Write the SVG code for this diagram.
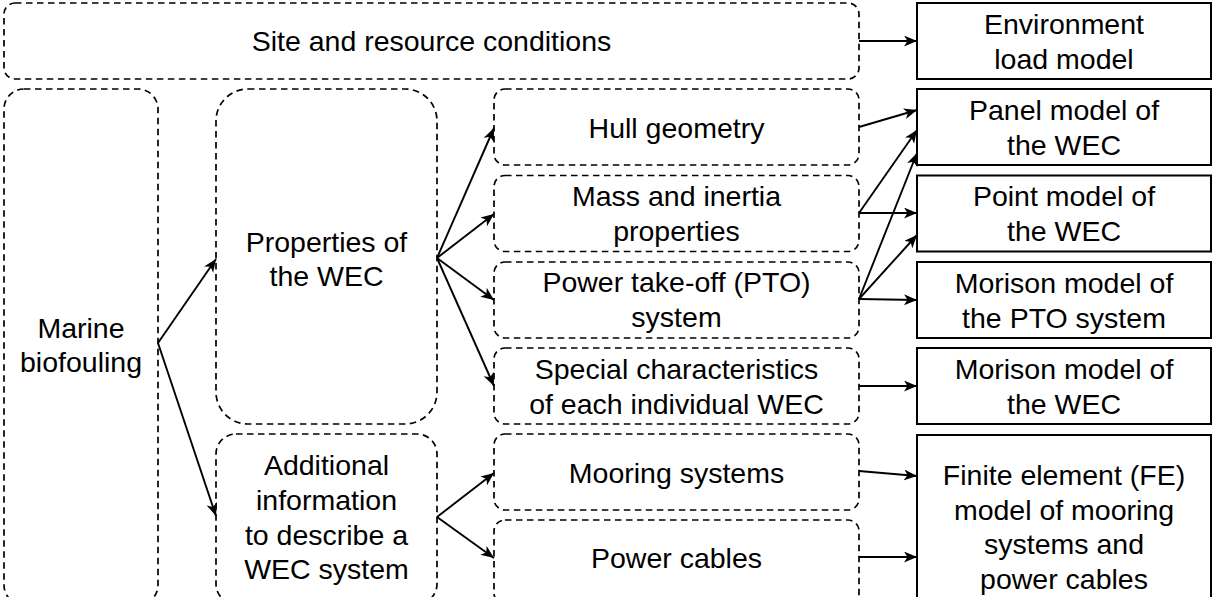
<svg xmlns="http://www.w3.org/2000/svg" width="1214" height="597" viewBox="0 0 1214 597">
  <defs>
    <style>
      .dash { fill: #ffffff; stroke: #000000; stroke-width: 1.7; stroke-dasharray: 6.5 4.5; }
      .solid { fill: #ffffff; stroke: #000000; stroke-width: 2; }
      .lbl { font-family: "Liberation Sans", Arial, Helvetica, sans-serif; font-size: 28.5px; fill: #000000; text-anchor: middle; }
      .edge { stroke: #000000; stroke-width: 1.9; fill: none; marker-end: url(#arrow); }
    </style>
    <marker id="arrow" markerUnits="userSpaceOnUse" markerWidth="15" markerHeight="12" refX="13" refY="5.5" orient="auto">
      <path d="M0,0 L13,5.5 L0,11 L3.5,5.5 z" fill="#000000"/>
    </marker>
  </defs>
  <rect width="1214" height="597" fill="#ffffff"/>

  <!-- inputs -->
  <g id="site">
    <rect class="dash" x="4" y="3" width="855" height="76" rx="11"/>
    <text class="lbl" x="431.5" y="51">Site and resource conditions</text>
  </g>
  <g id="biofouling">
    <rect class="dash" x="4" y="89" width="154" height="516" rx="20"/>
    <text class="lbl" x="81" y="337.5">Marine</text>
    <text class="lbl" x="81" y="371.5">biofouling</text>
  </g>
  <g id="properties">
    <rect class="dash" x="216" y="89" width="221" height="335" rx="32"/>
    <text class="lbl" x="326.5" y="252">Properties of</text>
    <text class="lbl" x="326.5" y="286">the WEC</text>
  </g>
  <g id="additional">
    <rect class="dash" x="216" y="434" width="221" height="170" rx="20"/>
    <text class="lbl" x="326.5" y="475">Additional</text>
    <text class="lbl" x="326.5" y="510">information</text>
    <text class="lbl" x="326.5" y="544.5">to describe a</text>
    <text class="lbl" x="326.5" y="579">WEC system</text>
  </g>

  <!-- WEC descriptors -->
  <g id="hull">
    <rect class="dash" x="494" y="89" width="365" height="76" rx="11"/>
    <text class="lbl" x="676.5" y="137.5">Hull geometry</text>
  </g>
  <g id="mass">
    <rect class="dash" x="494" y="175.5" width="365" height="76" rx="11"/>
    <text class="lbl" x="676.5" y="205.5">Mass and inertia</text>
    <text class="lbl" x="676.5" y="240.5">properties</text>
  </g>
  <g id="pto">
    <rect class="dash" x="494" y="262" width="365" height="76" rx="11"/>
    <text class="lbl" x="676.5" y="292">Power take-off (PTO)</text>
    <text class="lbl" x="676.5" y="327">system</text>
  </g>
  <g id="special">
    <rect class="dash" x="494" y="348" width="365" height="76" rx="11"/>
    <text class="lbl" x="676.5" y="379">Special characteristics</text>
    <text class="lbl" x="676.5" y="413.5">of each individual WEC</text>
  </g>
  <g id="mooring">
    <rect class="dash" x="494" y="434" width="365" height="76" rx="11"/>
    <text class="lbl" x="676.5" y="482.5">Mooring systems</text>
  </g>
  <g id="cables">
    <rect class="dash" x="494" y="520" width="365" height="84" rx="11"/>
    <text class="lbl" x="676.5" y="568">Power cables</text>
  </g>

  <!-- numerical models -->
  <g id="env-model">
    <rect class="solid" x="917" y="3" width="294" height="76"/>
    <text class="lbl" x="1064" y="33.5">Environment</text>
    <text class="lbl" x="1064" y="68.5">load model</text>
  </g>
  <g id="panel-model">
    <rect class="solid" x="917" y="89" width="294" height="76"/>
    <text class="lbl" x="1064" y="119.5">Panel model of</text>
    <text class="lbl" x="1064" y="154.5">the WEC</text>
  </g>
  <g id="point-model">
    <rect class="solid" x="917" y="175.5" width="294" height="76"/>
    <text class="lbl" x="1064" y="206">Point model of</text>
    <text class="lbl" x="1064" y="241">the WEC</text>
  </g>
  <g id="morison-pto">
    <rect class="solid" x="917" y="262" width="294" height="76"/>
    <text class="lbl" x="1064" y="292.5">Morison model of</text>
    <text class="lbl" x="1064" y="327.5">the PTO system</text>
  </g>
  <g id="morison-wec">
    <rect class="solid" x="917" y="348" width="294" height="76"/>
    <text class="lbl" x="1064" y="378.5">Morison model of</text>
    <text class="lbl" x="1064" y="413.5">the WEC</text>
  </g>
  <g id="fe-model">
    <rect class="solid" x="917" y="435" width="294" height="170"/>
    <text class="lbl" x="1064" y="485">Finite element (FE)</text>
    <text class="lbl" x="1064" y="519.5">model of mooring</text>
    <text class="lbl" x="1064" y="554">systems and</text>
    <text class="lbl" x="1064" y="588.5">power cables</text>
  </g>

  <!-- connectors -->
  <g id="connectors">
    <line class="edge" x1="158" y1="343" x2="216" y2="259"/>
    <line class="edge" x1="158" y1="343" x2="216" y2="516"/>
    <line class="edge" x1="437" y1="258" x2="494" y2="128"/>
    <line class="edge" x1="437" y1="258" x2="494" y2="214"/>
    <line class="edge" x1="437" y1="258" x2="494" y2="300"/>
    <line class="edge" x1="437" y1="258" x2="494" y2="386"/>
    <line class="edge" x1="437" y1="517" x2="494" y2="473"/>
    <line class="edge" x1="437" y1="517" x2="494" y2="558"/>
    <line class="edge" x1="859" y1="41" x2="917" y2="41"/>
    <line class="edge" x1="859" y1="127" x2="917" y2="110"/>
    <line class="edge" x1="859" y1="213" x2="917" y2="130"/>
    <line class="edge" x1="859" y1="213" x2="917" y2="213"/>
    <line class="edge" x1="859" y1="299" x2="917" y2="153"/>
    <line class="edge" x1="859" y1="299" x2="917" y2="235"/>
    <line class="edge" x1="859" y1="299" x2="917" y2="300"/>
    <line class="edge" x1="859" y1="386" x2="917" y2="386"/>
    <line class="edge" x1="859" y1="471" x2="917" y2="476"/>
    <line class="edge" x1="859" y1="557" x2="917" y2="557"/>
  </g>
</svg>
